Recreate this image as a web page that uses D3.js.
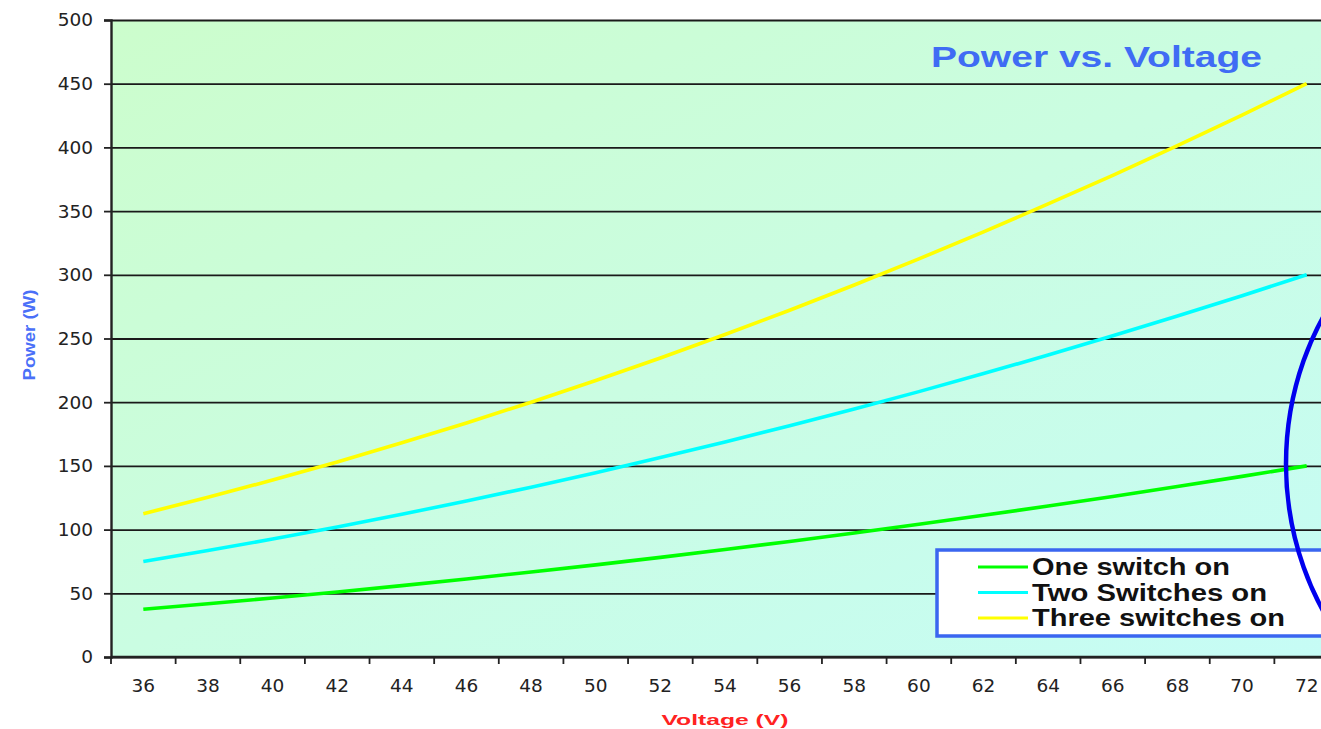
<!DOCTYPE html>
<html>
<head>
<meta charset="utf-8">
<script src="https://cdn.jsdelivr.net/npm/d3@7"></script>
<style>
  body { margin: 0; background: #fff; }
  text { font-family: "Liberation Sans", Arial, sans-serif; }
  .tick text { font-family: "DejaVu Sans", sans-serif; font-size: 18.5px; fill: #222; }
</style>
</head>
<body>
<div id="chart"></div>
<script>
      // x categories (volts)
      var voltages = [36, 38, 40, 42, 44, 46, 48, 50, 52, 54, 56, 58, 60, 62, 64, 66, 68, 70, 72];

      // power (W)
      var oneSwitch = [37.5, 41.8, 46.3, 51.0, 56.0, 61.2, 66.7, 72.3, 78.2, 84.4, 90.7, 97.3, 104.2, 111.2, 118.5, 126.0, 133.8, 141.8, 150.0];
      var twoSwitches = [75.0, 83.6, 92.6, 102.1, 112.0, 122.5, 133.3, 144.7, 156.5, 168.8, 181.5, 194.7, 208.3, 222.5, 237.0, 252.1, 267.6, 283.6, 300.0];
      var threeSwitches = [112.5, 125.3, 138.9, 153.1, 168.1, 183.7, 200.0, 217.0, 234.7, 253.1, 272.2, 292.0, 312.5, 333.7, 355.6, 378.1, 401.4, 425.3, 450.0];

      var seriesNames = ["One switch on", "Two Switches on", "Three switches on"];
      var seriesColors = ["#00ff00", "#00ffff", "#ffff00"];
      var legendWidths = [198, 235, 253];   // the original text is stretched sideways
      var yTicks = [0, 50, 100, 150, 200, 250, 300, 350, 400, 450, 500];

      var series = [oneSwitch, twoSwitches, threeSwitches].map(function(vals, i) {
        return {name: seriesNames[i], color: seriesColors[i], values: vals, tl: legendWidths[i]};
      });

      var W = 1321, H = 729;
      var margin = {top: 20, left: 111};
      var plotW = 1228, plotH = 637;

      var svg = d3.select("#chart").append("svg")
          .attr("width", W)
          .attr("height", H);

      // background gradient
      var defs = svg.append("defs");
      var grad = defs.append("linearGradient")
          .attr("id", "bg")
          .attr("x1", "0%").attr("y1", "0%")
          .attr("x2", "100%").attr("y2", "100%");
      grad.append("stop").attr("offset", "0%").attr("stop-color", "#ccfdcc");
      grad.append("stop").attr("offset", "50%").attr("stop-color", "#cafde2");
      grad.append("stop").attr("offset", "100%").attr("stop-color", "#c6fcf6");

      var g = svg.append("g")
          .attr("transform", "translate(" + margin.left + "," + margin.top + ")");

      g.append("rect")
          .attr("width", plotW)
          .attr("height", plotH)
          .attr("fill", "url(#bg)");

      ////// scales //////
      var xScale = d3.scaleBand()
          .domain(voltages)
          .range([0, plotW]);

      var yScale = d3.scaleLinear()
          .domain([0, 500])
          .range([plotH, 0]);

      // horizontal grid
      g.append("g")
          .attr("class", "y axis-grid")
          .call(d3.axisLeft(yScale).tickValues(yTicks).tickSize(-plotW).tickFormat(""))
          .call(function(s) {
            s.select(".domain").remove();
            s.selectAll("line").attr("stroke", "#1a1a1a").attr("stroke-width", 1.8);
          });

      // y axis
      g.append("g")
          .attr("class", "y axis")
          .call(d3.axisLeft(yScale).tickValues(yTicks).tickSize(7).tickPadding(11))
          .call(function(s) {
            s.select(".domain").attr("stroke", "#222").attr("stroke-width", 2.4);
            s.selectAll("line").attr("stroke", "#222").attr("stroke-width", 1.8);
          });

      // x axis: ticks between categories, labels centred
      var xAxis = g.append("g")
          .attr("class", "x axis")
          .attr("transform", "translate(0," + plotH + ")");

      xAxis.append("line")
          .attr("x1", 0).attr("x2", plotW)
          .attr("stroke", "#222").attr("stroke-width", 2.4);

      var bounds = voltages.map(function(v) { return xScale(v); }).concat([plotW]);
      xAxis.selectAll(".xt")
          .data(bounds)
          .enter().append("line")
          .attr("class", "xt")
          .attr("x1", function(d) { return d; })
          .attr("x2", function(d) { return d; })
          .attr("y1", 0).attr("y2", 7)
          .attr("stroke", "#222").attr("stroke-width", 1.8);

      xAxis.selectAll(".tick")
          .data(voltages)
          .enter().append("g")
          .attr("class", "tick")
          .append("text")
          .attr("x", function(d) { return xScale(d) + xScale.bandwidth() / 2; })
          .attr("y", 29)
          .attr("dy", "0.35em")
          .attr("text-anchor", "middle")
          .text(function(d) { return d; });

      // series lines
      var line = d3.line()
          .x(function(d, i) { return xScale(voltages[i]) + xScale.bandwidth() / 2; })
          .y(function(d) { return yScale(d); });

      g.selectAll(".series")
          .data(series)
          .enter().append("path")
          .attr("class", "series")
          .attr("fill", "none")
          .attr("stroke", function(d) { return d.color; })
          .attr("stroke-width", 3.6)
          .attr("d", function(d) { return line(d.values); });

      // title
      svg.append("text")
          .attr("x", 931)
          .attr("y", 67)
          .attr("font-size", 30)
          .attr("font-weight", "bold")
          .attr("fill", "#3f6cf4")
          .attr("textLength", 331)
          .attr("lengthAdjust", "spacingAndGlyphs")
          .text("Power vs. Voltage");

      // axis titles
      svg.append("text")
          .attr("transform", "translate(35,335) rotate(-90)")
          .attr("text-anchor", "middle")
          .attr("font-size", 17)
          .attr("font-weight", "bold")
          .attr("fill", "#4a70f8")
          .attr("textLength", 91)
          .attr("lengthAdjust", "spacingAndGlyphs")
          .text("Power (W)");

      svg.append("text")
          .attr("x", 725)
          .attr("y", 725)
          .attr("text-anchor", "middle")
          .attr("font-size", 15)
          .attr("font-weight", "bold")
          .attr("fill", "#ff2222")
          .attr("textLength", 127)
          .attr("lengthAdjust", "spacingAndGlyphs")
          .text("Voltage (V)");

      // legend
      var legend = svg.append("g")
          .attr("transform", "translate(937,550)");

      legend.append("rect")
          .attr("width", 420)
          .attr("height", 86)
          .attr("fill", "#fff")
          .attr("stroke", "#3a66f0")
          .attr("stroke-width", 3.5);

      var items = legend.selectAll(".item")
          .data(series)
          .enter().append("g")
          .attr("class", "item")
          .attr("transform", function(d, i) { return "translate(0," + (17 + i * 25.5) + ")"; });

      items.append("line")
          .attr("x1", 41).attr("x2", 91)
          .attr("stroke", function(d) { return d.color; })
          .attr("stroke-width", 3);

      items.append("text")
          .attr("x", 95)
          .attr("dy", "0.36em")
          .attr("font-size", 23)
          .attr("font-weight", "bold")
          .attr("fill", "#111")
          .attr("textLength", function(d) { return d.tl; })
          .attr("lengthAdjust", "spacingAndGlyphs")
          .text(function(d) { return d.name; });

      // blue hand-drawn ring on the right
      svg.append("ellipse")
          .attr("cx", 1286 + 250)
          .attr("cy", yScale(150) + margin.top - 2)
          .attr("rx", 250)
          .attr("ry", 280)
          .attr("fill", "none")
          .attr("stroke", "#0000ee")
          .attr("stroke-width", 4.5);
</script>
</body>
</html>
